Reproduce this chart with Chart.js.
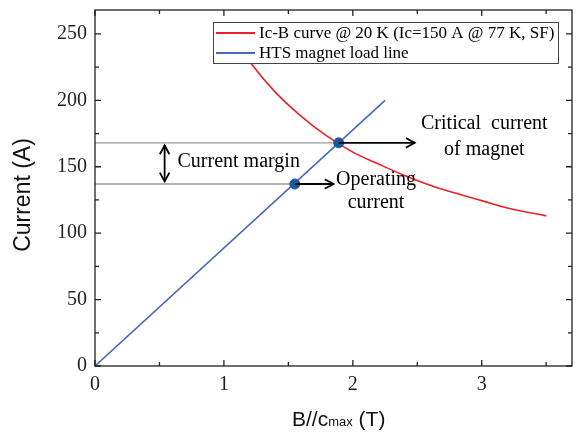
<!DOCTYPE html>
<html>
<head>
<meta charset="utf-8">
<script src="https://cdn.jsdelivr.net/npm/chart.js@4.4.0/dist/chart.umd.min.js"></script>
<style>
  html, body { margin: 0; padding: 0; background: #fff; }
</style>
</head>
<body>
<canvas id="myChart" width="578" height="432"></canvas>
<script>
// Ic-B curve @ 20 K
var icB = [1.1, 1.2, 1.4, 1.6, 1.8, 2.0, 2.2, 2.4, 2.6, 2.8, 3.0, 3.2, 3.5];
var icI = [245, 229, 206, 188, 173, 161, 152, 143.5, 136, 130, 124.5, 119, 113];

// HTS magnet load line
var loadB = [0, 2.25];
var loadI = [0, 200];

// operating point, critical point
var ptB = [1.55, 1.89];
var ptI = [137, 168];

var xTicks = [0, 1, 2, 3];
var yTicks = [0, 50, 100, 150, 200, 250];
var xMinor = [0.5, 1.5, 2.5, 3.5];
var yMinor = [25, 75, 125, 175, 225];

function pts(xs, ys) {
    return xs.map(function (v, i) { return { x: v, y: ys[i] }; });
}

var serif = 'Liberation Serif';
var sans = 'Liberation Sans';

// annotations (data coords)
var arrows = [
    { x0: 1.89, y0: 168, x1: 2.48, y1: 168, both: false },
    { x0: 1.55, y0: 137, x1: 1.85, y1: 137, both: false },
    { x0: 0.54, y0: 166, x1: 0.54, y1: 139, both: true }
];
var notes = [
    { text: 'Current margin', x: 0.64, y: 154, align: 'left' },
    { text: 'Critical  current', x: 3.02, y: 182, align: 'center' },
    { text: 'of magnet', x: 3.02, y: 163, align: 'center' },
    { text: 'Operating', x: 2.18, y: 140, align: 'center' },
    { text: 'current', x: 2.18, y: 123, align: 'center' }
];

function arrowHead(ctx, x0, y0, x1, y1) {
    var ang = Math.atan2(y1 - y0, x1 - x0), L = 10, w = 0.5;
    ctx.beginPath();
    ctx.moveTo(x1 - L * Math.cos(ang - w), y1 - L * Math.sin(ang - w));
    ctx.lineTo(x1, y1);
    ctx.lineTo(x1 - L * Math.cos(ang + w), y1 - L * Math.sin(ang + w));
    ctx.stroke();
}

var extras = {
    id: 'extras',
    afterDatasetsDraw: function (chart) {
        var ctx = chart.ctx, xs = chart.scales.x, ys = chart.scales.y, a = chart.chartArea;
        ctx.save();

        // arrows
        ctx.strokeStyle = '#000';
        ctx.lineWidth = 1.8;
        arrows.forEach(function (r) {
            var x0 = xs.getPixelForValue(r.x0), y0 = ys.getPixelForValue(r.y0);
            var x1 = xs.getPixelForValue(r.x1), y1 = ys.getPixelForValue(r.y1);
            ctx.beginPath();
            ctx.moveTo(x0, y0);
            ctx.lineTo(x1, y1);
            ctx.stroke();
            arrowHead(ctx, x0, y0, x1, y1);
            if (r.both) arrowHead(ctx, x1, y1, x0, y0);
        });

        // texts
        ctx.fillStyle = '#000';
        ctx.font = '20px "' + serif + '"';
        ctx.textBaseline = 'middle';
        notes.forEach(function (n) {
            ctx.textAlign = n.align;
            ctx.fillText(n.text, xs.getPixelForValue(n.x), ys.getPixelForValue(n.y));
        });

        // frame and inward ticks
        ctx.strokeStyle = '#222';
        ctx.lineWidth = 1.3;
        ctx.strokeRect(a.left, a.top, a.right - a.left, a.bottom - a.top);
        function xt(v, len) {
            var p = xs.getPixelForValue(v);
            ctx.beginPath();
            ctx.moveTo(p, a.bottom); ctx.lineTo(p, a.bottom - len);
            ctx.moveTo(p, a.top); ctx.lineTo(p, a.top + len);
            ctx.stroke();
        }
        function yt(v, len) {
            var p = ys.getPixelForValue(v);
            ctx.beginPath();
            ctx.moveTo(a.left, p); ctx.lineTo(a.left + len, p);
            ctx.moveTo(a.right, p); ctx.lineTo(a.right - len, p);
            ctx.stroke();
        }
        xTicks.forEach(function (v) { xt(v, 6); });
        xMinor.forEach(function (v) { xt(v, 4); });
        yTicks.forEach(function (v) { yt(v, 6); });
        yMinor.forEach(function (v) { yt(v, 4); });

        // legend box
        var lx = 213, ly = 22, lw = 345, lh = 41;
        ctx.fillStyle = '#fff';
        ctx.fillRect(lx, ly, lw, lh);
        ctx.strokeStyle = '#444';
        ctx.lineWidth = 1;
        ctx.strokeRect(lx + 0.5, ly + 0.5, lw, lh);
        ctx.font = '17px "' + serif + '"';
        ctx.textAlign = 'left';
        chart.data.datasets.slice(0, 2).forEach(function (ds, i) {
            var yy = ly + 11 + i * 20;
            ctx.strokeStyle = ds.borderColor;
            ctx.lineWidth = 1.8;
            ctx.beginPath();
            ctx.moveTo(lx + 3, yy);
            ctx.lineTo(lx + 42, yy);
            ctx.stroke();
            ctx.fillStyle = '#000';
            ctx.fillText(ds.label, lx + 46, yy + 1);
        });

        // axis titles
        ctx.fillStyle = '#111';
        ctx.textBaseline = 'alphabetic';
        ctx.save();
        ctx.translate(30, 195);
        ctx.rotate(-Math.PI / 2);
        ctx.textAlign = 'center';
        ctx.font = '23px "' + sans + '"';
        ctx.fillText('Current (A)', 0, 0);
        ctx.restore();

        ctx.textAlign = 'left';
        var bx = 292, by = 426;
        ctx.font = '21px "' + sans + '"';
        ctx.fillText('B//c', bx, by);
        bx += ctx.measureText('B//c').width;
        ctx.font = '13px "' + sans + '"';
        ctx.fillText('max', bx, by);
        bx += ctx.measureText('max').width;
        ctx.font = '21px "' + sans + '"';
        ctx.fillText(' (T)', bx, by);

        ctx.restore();
    }
};

function noPad(s) {
    s.paddingTop = 0;
    s.paddingBottom = 0;
    s.paddingLeft = 0;
    s.paddingRight = 0;
}

var ctx = document.getElementById('myChart').getContext('2d');

var myChart = new Chart(ctx, {
    type: 'line',
    data: {
        datasets: [{
            label: 'Ic-B curve @ 20 K (Ic=150 A @ 77 K, SF)',
            data: pts(icB, icI),
            borderColor: '#ef1f28',
            borderWidth: 1.6,
            pointRadius: 0,
            tension: 0.4,
            order: 2
        }, {
            label: 'HTS magnet load line',
            data: pts(loadB, loadI),
            borderColor: '#4a66b8',
            borderWidth: 1.6,
            pointRadius: 0,
            order: 3
        }, {
            label: 'critical',
            data: [{ x: 0, y: ptI[1] }, { x: ptB[1], y: ptI[1] }],
            borderColor: '#9a9a9a',
            borderWidth: 1.3,
            pointRadius: 0,
            order: 4
        }, {
            label: 'operating',
            data: [{ x: 0, y: ptI[0] }, { x: ptB[0], y: ptI[0] }],
            borderColor: '#9a9a9a',
            borderWidth: 1.3,
            pointRadius: 0,
            order: 4
        }, {
            label: 'points',
            data: pts(ptB, ptI),
            showLine: false,
            pointRadius: 5,
            pointBackgroundColor: '#1b5b9d',
            pointBorderColor: '#1b5b9d',
            order: 1
        }]
    },
    options: {
        responsive: false,
        animation: false,
        layout: { padding: { top: 10, right: 2, left: 0, bottom: 0 } },
        plugins: { legend: { display: false }, tooltip: { enabled: false } },
        scales: {
            x: {
                type: 'linear',
                min: 0,
                max: 3.7,
                afterBuildTicks: function (s) { s.ticks = xTicks.map(function (v) { return { value: v }; }); },
                afterFit: function (s) { s.height = 66; noPad(s); },
                grid: { display: false, drawTicks: false },
                border: { display: false },
                ticks: { font: { family: serif, size: 20 }, color: '#222', padding: 7, maxRotation: 0, autoSkip: false }
            },
            y: {
                type: 'linear',
                min: 0,
                max: 268,
                afterBuildTicks: function (s) { s.ticks = yTicks.map(function (v) { return { value: v }; }); },
                afterFit: function (s) { s.width = 95; noPad(s); },
                grid: { display: false, drawTicks: false },
                border: { display: false },
                ticks: { font: { family: serif, size: 20 }, color: '#222', padding: 8, autoSkip: false }
            }
        }
    },
    plugins: [extras]
});
</script>
</body>
</html>
